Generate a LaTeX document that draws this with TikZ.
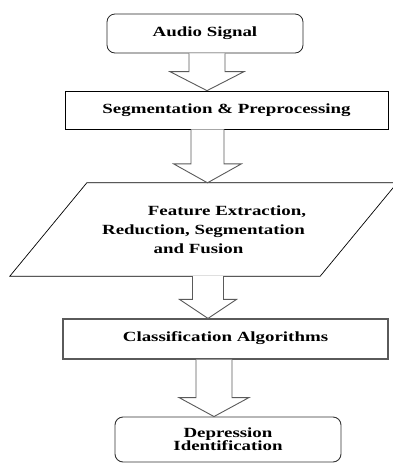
\documentclass[tikz,border=0pt]{standalone}
\usepackage{fontspec}
\setmainfont{Liberation Serif}[FakeStretch=1.35]
\usepackage{tikz}
\usetikzlibrary{shapes, calc}
\definecolor{edgegray}{RGB}{90, 90, 90}

% hollow block arrow from one box down to the next: from, to, x, shaft half width, head half width
\newcommand{\hollowarrow}[5]{%
  \draw[hollow] let \p1=(#1.south), \p2=(#2.north) in
    (#3pt-#4pt,\y1) -- (#3pt-#4pt,\y2+19pt) -- (#3pt-#5pt,\y2+19pt) -- (#3pt,\y2)
    -- (#3pt+#5pt,\y2+19pt) -- (#3pt+#4pt,\y2+19pt) -- (#3pt+#4pt,\y1);}

\begin{document}
\begin{tikzpicture}[
  x=1pt, y=-1pt,
  box/.style={rectangle, draw, inner sep=0pt, align=center, font=\fontsize{14}{13}\selectfont\bfseries},
  hollow/.style={draw=edgegray, line width=0.9pt, fill=white},
]
  \useasboundingbox (0,0) rectangle (392,464);

  \node[box, rounded corners=8pt, draw=black!85, line width=0.8pt, minimum width=196pt, minimum height=39pt] (audio) at (205,33.5) {\raisebox{3pt}{Audio Signal}};

  \node[box, line width=0.7pt, minimum width=323pt, minimum height=38pt] (seg) at (226.5,110) {Segmentation \& Preprocessing};

  % parallelogram: text node, outline drawn from its corners
  \node[box, draw=none, minimum width=387pt, minimum height=93pt, font=\fontsize{14}{19}\selectfont\bfseries] (feat) at (203.5,229.5) {
    \hspace*{47pt}Feature Extraction,\\
    Reduction, Segmentation\\
    and Fusion\hspace*{10pt}
  };
  \draw[line width=0.7pt] (feat.south west) -- ($(feat.north west)+(77,0)$) -- (feat.north east)
    -- ($(feat.south east)-(77,0)$) -- cycle;

  \node[box, draw=edgegray, line width=1.2pt, minimum width=325pt, minimum height=40pt] (class) at (225.5,339) {\raisebox{4pt}{Classification Algorithms}};

  \node[box, rounded corners=8pt, draw=black!80, line width=0.9pt, minimum width=226pt, minimum height=45pt] (depr) at (228,439.5) {Depression\\Identification};

  \hollowarrow{audio}{seg}{207}{18}{37}
  \hollowarrow{seg}{feat}{207.5}{16.5}{34}
  \hollowarrow{feat}{class}{208}{15.5}{28.5}
  \hollowarrow{class}{depr}{214}{18}{35}
\end{tikzpicture}
\end{document}
